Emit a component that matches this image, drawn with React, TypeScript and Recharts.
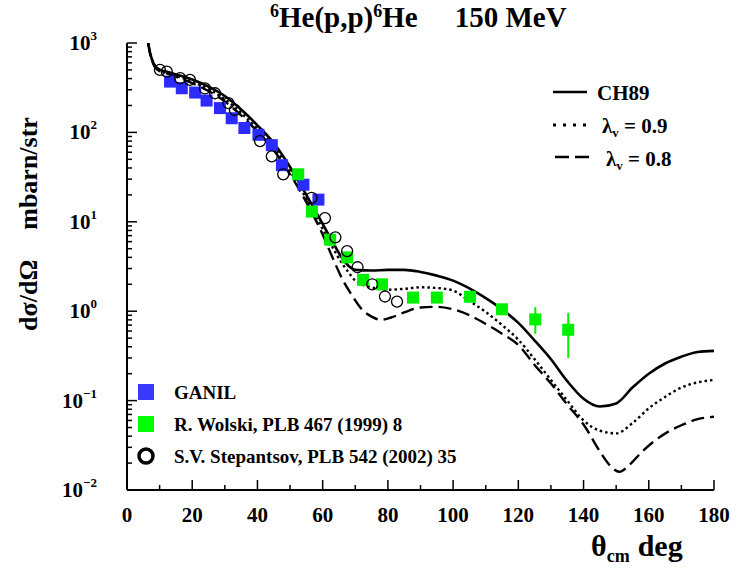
import React from 'react'
import { ComposedChart, Line, Scatter, XAxis, YAxis, ErrorBar } from 'recharts'

// plot box in page pixels
const W = 737
const H = 570
const PLOT_LEFT = 127
const PLOT_RIGHT = 714
const PLOT_TOP = 43
const PLOT_BOTTOM = 490

const FONT = '"Liberation Serif", "Times New Roman", serif'

// CH89 (solid)
const CH89_X = [6.5, 7, 8, 9, 10, 12, 15, 20, 25, 30, 35, 40, 45, 50, 55, 60, 63, 66, 68, 70, 75, 80, 85, 90, 95, 100, 105, 110, 115, 120, 125, 130, 135, 140, 145, 150, 155, 160, 165, 170, 175, 180]
const CH89_Y = [1000, 800, 610, 535, 505, 480, 445, 390, 325, 255, 180, 120, 76, 41, 20, 9.5, 6, 3.9, 3.2, 2.9, 2.85, 2.9, 2.9, 2.75, 2.5, 2.2, 1.8, 1.4, 1.05, 0.74, 0.47, 0.29, 0.165, 0.105, 0.086, 0.093, 0.14, 0.2, 0.26, 0.31, 0.35, 0.36]

// lambda_v = 0.9 (dotted)
const L09_X = CH89_X
const L09_Y = [1000, 790, 600, 525, 495, 470, 430, 370, 305, 235, 165, 110, 69, 37, 18, 8.3, 5.2, 3.4, 2.7, 2.2, 1.85, 1.74, 1.78, 1.85, 1.82, 1.7, 1.3, 0.98, 0.7, 0.48, 0.29, 0.17, 0.1, 0.06, 0.046, 0.043, 0.056, 0.082, 0.11, 0.14, 0.16, 0.17]

// lambda_v = 0.8 (dashed)
const L08_X = [6.5, 7, 8, 9, 10, 12, 15, 20, 25, 30, 35, 40, 45, 50, 55, 60, 63, 66, 69, 72, 75, 78, 81, 85, 90, 95, 100, 105, 110, 115, 120, 125, 130, 135, 140, 145, 148, 151, 154, 158, 162, 166, 170, 175, 180]
const L08_Y = [1000, 780, 590, 515, 485, 460, 420, 355, 290, 222, 155, 102, 63, 34, 16.5, 7.2, 4.0, 2.3, 1.5, 1.05, 0.87, 0.8, 0.85, 0.97, 1.1, 1.12, 1.05, 0.9, 0.72, 0.56, 0.42, 0.25, 0.155, 0.09, 0.054, 0.027, 0.019, 0.016, 0.019, 0.027, 0.036, 0.045, 0.053, 0.062, 0.066]

// GANIL
const GANIL_X = [13.2, 16.8, 20.9, 24.4, 28.5, 32.1, 36.0, 40.3, 44.4, 47.5, 54.1, 58.7]
const GANIL_Y = [370, 312, 279, 227, 187, 144, 112, 94, 72, 43, 26, 17.7]

// R. Wolski
const WOLSKI_X = [52.5, 56.7, 62.3, 67.5, 72.4, 78.2, 87.7, 95.0, 105.2, 115.0, 125.2, 135.3]
const WOLSKI_Y = [34, 13, 6.3, 4.0, 2.24, 2.0, 1.42, 1.42, 1.45, 1.05, 0.81, 0.62]
const WOLSKI_ERR: ([number, number] | null)[] = [null, null, null, null, null, null, null, null, null, null, [0.25, 0.3], [0.32, 0.34]]

// S.V. Stepantsov
const STEP_X = [10.1, 12.2, 16.3, 19.3, 23.9, 27.0, 31.1, 33.1, 40.8, 44.4, 47.9, 56.6, 60.7, 63.9, 67.5, 70.7, 75.2, 79.1, 82.8]
const STEP_Y = [500, 478, 404, 387, 310, 274, 213, 178, 80, 54, 34, 18.5, 11, 6.7, 4.7, 3.1, 2.0, 1.46, 1.28]

const X_TICKS = [0, 10, 20, 30, 40, 50, 60, 70, 80, 90, 100, 110, 120, 130, 140, 150, 160, 170, 180]
const DECADES = [-2, -1, 0, 1, 2]
const Y_TICKS = [...DECADES.flatMap((d) => [1, 2, 3, 4, 5, 6, 7, 8, 9].map((m) => m * Math.pow(10, d))), 1000]

const pairs = (xs: number[], ys: number[]) => xs.map((x, i) => ({ x, y: ys[i] }))
const ch89 = pairs(CH89_X, CH89_Y)
const l09 = pairs(L09_X, L09_Y)
const l08 = pairs(L08_X, L08_Y)
const ganil = pairs(GANIL_X, GANIL_Y)
const wolski = WOLSKI_X.map((x, i) => ({ x, y: WOLSKI_Y[i], err: WOLSKI_ERR[i] ?? [0, 0] }))
const step = pairs(STEP_X, STEP_Y)

const isDecade = (v: number) => Math.abs(Math.log10(v) - Math.round(Math.log10(v))) < 1e-6

function XBottomTick(props: any) {
  const { x, payload } = props
  const v = payload.value
  const major = v % 20 === 0
  return (
    <g>
      <line x1={x} x2={x} y1={PLOT_BOTTOM} y2={PLOT_BOTTOM - (major ? 10 : 5)} stroke="#000" strokeWidth={1.5} />
      {major && (
        <text x={x} y={PLOT_BOTTOM + 32} textAnchor="middle" fontSize={21} fontWeight="bold" fontFamily={FONT} fill="#000">
          {v}
        </text>
      )}
    </g>
  )
}

function XTopTick(props: any) {
  const { x, payload } = props
  const major = payload.value % 20 === 0
  return <line x1={x} x2={x} y1={PLOT_TOP} y2={PLOT_TOP + (major ? 10 : 5)} stroke="#000" strokeWidth={1.5} />
}

function YLeftTick(props: any) {
  const { y, payload } = props
  const v = payload.value
  const major = isDecade(v)
  const exp = Math.round(Math.log10(v))
  return (
    <g>
      <line x1={PLOT_LEFT} x2={PLOT_LEFT + (major ? 10 : 5)} y1={y} y2={y} stroke="#000" strokeWidth={1.5} />
      {major && (
        <text x={97} y={y + 7} textAnchor="end" fontSize={21} fontWeight="bold" fontFamily={FONT} fill="#000">
          10
          <tspan dy={-10} fontSize={13}>{exp < 0 ? `\u2212${-exp}` : exp}</tspan>
        </text>
      )}
    </g>
  )
}

function YRightTick(props: any) {
  const { y, payload } = props
  const major = isDecade(payload.value)
  return <line x1={PLOT_RIGHT} x2={PLOT_RIGHT - (major ? 10 : 5)} y1={y} y2={y} stroke="#000" strokeWidth={1.5} />
}

const square = (color: string) => (p: any) => (
  <rect x={p.cx - 6} y={p.cy - 6} width={12} height={12} fill={color} />
)
const ring = (p: any) => <circle cx={p.cx} cy={p.cy} r={5.5} fill="none" stroke="#000" strokeWidth={1.3} />

const txt = { fontFamily: FONT, fontWeight: 'bold' as const, fill: '#000' }

export default function App() {
  return (
    <div style={{ position: 'absolute', left: 0, top: 0, width: W, height: H, background: '#fff' }}>
      <ComposedChart width={W} height={H} margin={{ top: PLOT_TOP, right: W - PLOT_RIGHT, bottom: 0, left: 0 }}>
        <XAxis
          dataKey="x"
          type="number"
          domain={[0, 180]}
          ticks={X_TICKS}
          interval={0}
          height={H - PLOT_BOTTOM}
          axisLine={{ stroke: '#000', strokeWidth: 2 }}
          tickLine={false}
          tick={XBottomTick}
          allowDataOverflow
        />
        <XAxis
          xAxisId="top"
          orientation="top"
          dataKey="x"
          type="number"
          domain={[0, 180]}
          ticks={X_TICKS}
          interval={0}
          height={0}
          axisLine={{ stroke: '#000', strokeWidth: 2 }}
          tickLine={false}
          tick={XTopTick}
        />
        <YAxis
          type="number"
          scale="log"
          domain={[0.01, 1000]}
          ticks={Y_TICKS}
          interval={0}
          width={PLOT_LEFT}
          axisLine={{ stroke: '#000', strokeWidth: 2 }}
          tickLine={false}
          tick={YLeftTick}
          allowDataOverflow
        />
        <YAxis
          yAxisId="right"
          orientation="right"
          type="number"
          scale="log"
          domain={[0.01, 1000]}
          ticks={Y_TICKS}
          interval={0}
          width={0}
          axisLine={{ stroke: '#000', strokeWidth: 2 }}
          tickLine={false}
          tick={YRightTick}
          allowDataOverflow
        />
        <Scatter data={ganil} dataKey="y" shape={square('#2b2bff')} isAnimationActive={false} />
        <Scatter data={wolski} dataKey="y" shape={square('#00f000')} isAnimationActive={false}>
          <ErrorBar dataKey="err" direction="y" width={0} stroke="#00f000" strokeWidth={2} />
        </Scatter>
        <Line data={ch89} dataKey="y" type="monotone" stroke="#000" strokeWidth={2.6} dot={false} isAnimationActive={false} />
        <Line data={l09} dataKey="y" type="monotone" stroke="#000" strokeWidth={2.4} strokeDasharray="2.5 3" dot={false} isAnimationActive={false} />
        <Line data={l08} dataKey="y" type="monotone" stroke="#000" strokeWidth={2.4} strokeDasharray="13 6" dot={false} isAnimationActive={false} />
        <Scatter data={step} dataKey="y" shape={ring} isAnimationActive={false} />
      </ComposedChart>

      <svg width={W} height={H} style={{ position: 'absolute', left: 0, top: 0, pointerEvents: 'none' }}>
        <text x={270} y={27} fontSize={29} {...txt}>
          <tspan fontSize={18} dy={-10}>6</tspan>
          <tspan dy={10}>He(p,p)</tspan>
          <tspan fontSize={18} dy={-10}>6</tspan>
          <tspan dy={10}>He</tspan>
          <tspan dx={37}>150 MeV</tspan>
        </text>

        <text transform="translate(37, 224) rotate(-90)" textAnchor="middle" fontSize={26} {...txt}>
          dσ/dΩ
          <tspan dx={30}>mbarn/str</tspan>
        </text>

        <text x={591} y={556} fontSize={30} {...txt}>
          θ
          <tspan fontSize={18} dy={6}>cm</tspan>
          <tspan dy={-6} dx={8}>deg</tspan>
        </text>

        <line x1={553} x2={587} y1={92} y2={92} stroke="#000" strokeWidth={2.6} />
        <text x={597} y={100} fontSize={21} {...txt}>CH89</text>
        <line x1={553} x2={587} y1={125} y2={125} stroke="#000" strokeWidth={3} strokeDasharray="3 7" />
        <text x={602} y={133} fontSize={21} {...txt}>
          λ<tspan fontSize={13} dy={4}>v</tspan>
          <tspan dy={-4}> = 0.9</tspan>
        </text>
        <line x1={555} x2={589} y1={157} y2={157} stroke="#000" strokeWidth={2.6} strokeDasharray="14 6" />
        <text x={606} y={166} fontSize={21} {...txt}>
          λ<tspan fontSize={13} dy={4}>v</tspan>
          <tspan dy={-4}> = 0.8</tspan>
        </text>

        <rect x={138} y={384} width={16} height={16} fill="#3a3aff" />
        <text x={174} y={399} fontSize={19} {...txt}>GANIL</text>
        <rect x={138} y={416} width={16} height={16} fill="#00ff00" />
        <text x={174} y={431} fontSize={19} {...txt}>R. Wolski, PLB 467 (1999) 8</text>
        <circle cx={146} cy={456} r={7} fill="none" stroke="#000" strokeWidth={3.5} />
        <text x={174} y={463} fontSize={19} {...txt}>S.V. Stepantsov, PLB 542 (2002) 35</text>
      </svg>
    </div>
  )
}
